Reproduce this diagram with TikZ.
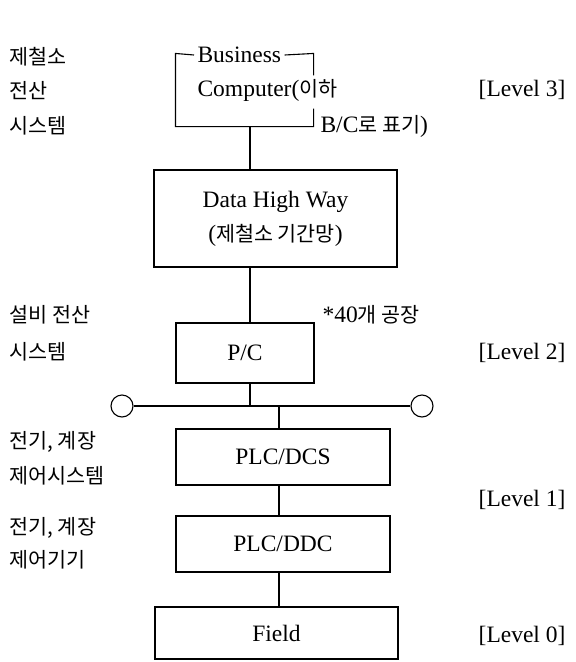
\documentclass[tikz,border=0pt]{standalone}
\usepackage{fontspec}
\setmainfont{Liberation Serif}
\newfontfamily\kr{Noto Sans CJK KR}[Scale=0.88]
\usetikzlibrary{calc}
\tikzstyle{every picture}+=[x=1pt, y=-1pt, line width=1.1pt]
\tikzstyle{blk}=[draw, inner sep=0pt, align=center, font=\fontsize{23.5}{34}\selectfont]
\tikzstyle{lbl}=[inner sep=0pt, anchor=west, font=\fontsize{23.5}{28}\selectfont]
\tikzstyle{lvl}=[inner sep=0pt, anchor=east, font=\fontsize{23.5}{28}\selectfont]

\begin{document}
\begin{tikzpicture}
	\useasboundingbox (0,0) rectangle (576,662);
	\coordinate(trunk) at (250,0);
	\coordinate(trunkb) at (279,0);
	\node(bc)[inner sep=0pt, minimum width=137pt, minimum height=72pt] at (244.5,90) {};
	\node(biz)[lbl] at (197,55) {Business};
	\node(cmp)[lbl] at (197,90) {Computer({\kr 이하}};
	\node(bcx)[lbl] at (320,126) {B/C{\kr 로 표기})};
	\draw ([xshift=-3pt]biz.west) -- (bc.north west) -- (bc.south west) -- (bc.south east) -- ++(0,-18);
	\draw ([xshift=3pt]biz.east) -- (bc.north east) -- ++(0,22);
	\node(dhw)[blk, minimum width=243pt, minimum height=97pt] at (275.5,218.5) {Data High Way\\({\kr 제철소 기간망})};
	\node(pc)[blk, minimum width=138pt, minimum height=60pt] at (245,353) {P/C};
	\node(lc)[draw, circle, minimum size=22pt, inner sep=0pt] at (122,406) {};
	\node(rc)[draw, circle, minimum size=22pt, inner sep=0pt] at (422,406) {};
	\node(dcs)[blk, minimum width=214pt, minimum height=56pt] at (283,457) {PLC/DCS};
	\node(ddc)[blk, minimum width=214pt, minimum height=56pt] at (283,544) {PLC/DDC};
	\node(fld)[blk, minimum width=243pt, minimum height=52pt] at (276.5,633) {Field};
	\draw (bc.south -| trunk) -- (dhw.north -| trunk);
	\draw (dhw.south -| trunk) -- (pc.north -| trunk);
	\draw (pc.south -| trunk) -- (lc -| trunk);
	\draw (lc) -- (rc);
	\draw (lc -| trunkb) -- (dcs.north -| trunkb);
	\draw (dcs.south -| trunkb) -- (ddc.north -| trunkb);
	\draw (ddc.south -| trunkb) -- (fld.north -| trunkb);
	\node(note)[lbl] at (322,315) {*40{\kr 개 공장}};
	\node(l3a)[lbl] at (9,57) {\kr 제철소};
	\node(l3b)[lbl] at (9,91) {\kr 전산};
	\node(l3c)[lbl] at (9,126) {\kr 시스템};
	\node(l2a)[lbl] at (9,315) {\kr 설비 전산};
	\node(l2b)[lbl] at (9,352) {\kr 시스템};
	\node(l1a)[lbl] at (9,442) {\kr 전기, 계장};
	\node(l1b)[lbl] at (9,476) {\kr 제어시스템};
	\node(l0a)[lbl] at (9,528) {\kr 전기, 계장};
	\node(l0b)[lbl] at (9,560) {\kr 제어기기};
	\node(lv3)[lvl] at (566,90) {[Level 3]};
	\node(lv2)[lvl] at (566,353) {[Level 2]};
	\node(lv1)[lvl] at (566,500) {[Level 1]};
	\node(lv0)[lvl] at (566,636) {[Level 0]};
\end{tikzpicture}
\end{document}
